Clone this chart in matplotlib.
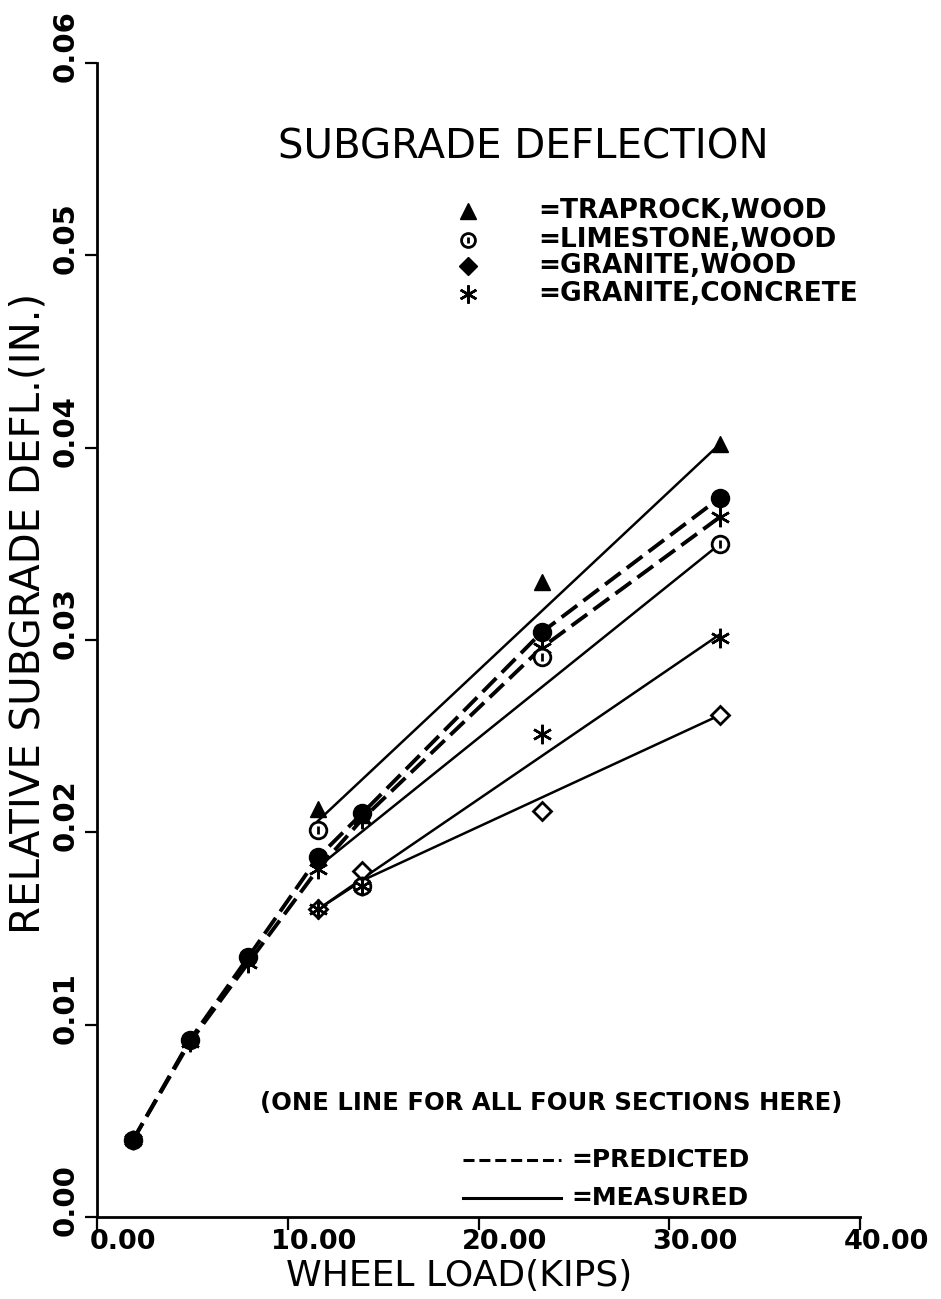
import matplotlib
matplotlib.use('Agg')
import matplotlib.pyplot as plt
from matplotlib.transforms import ScaledTranslation, blended_transform_factory

# --- Data ---
# wheel loads (kips) where deflections were computed / measured
load = [1.86, 4.85, 7.9, 11.57, 13.9, 23.3, 32.66]

# predicted subgrade deflection, two dashed curves (in.)
pred_upper = [0.0040, 0.0092, 0.0135, 0.0187, 0.0210, 0.0304, 0.0374]
pred_lower = [0.0040, 0.0091, 0.0132, 0.0181, 0.0207, 0.0296, 0.0364]

# measured points per section
sec_load = [11.57, 13.9, 23.3, 32.66]
traprock_wood = [0.0212, 0.0209, 0.0330, 0.0402]
limestone_wood = [0.0201, 0.0172, 0.0291, 0.0350]
granite_wood = [0.0160, 0.0180, 0.0211, 0.0261]
granite_concrete = [0.0160, 0.0172, 0.0251, 0.0301]

# measured (fitted) solid lines
fit_load = [11.57, 32.66]
traprock_fit = [0.0206, 0.0402]
limestone_fit = [0.0182, 0.0350]
granite_fit_load = [11.57, 13.9, 32.66]
granite_wood_fit = [0.0160, 0.0175, 0.0261]
granite_concrete_fit = [0.0160, 0.0176, 0.0303]

x_ticks = [0, 10, 20, 30, 40]
x_ticklabels = ['0.00', '10.00', '20.00', '30.00', '40.00']
y_ticks = [0.00, 0.01, 0.02, 0.03, 0.04, 0.05, 0.06]
y_ticklabels = ['0.00', '0.01', '0.02', '0.03', '0.04', '0.05', '0.06']

legend_labels = ['=TRAPROCK,WOOD', '=LIMESTONE,WOOD', '=GRANITE,WOOD', '=GRANITE,CONCRETE']

# --- Figure ---
fig = plt.figure(figsize=(9.41, 12.99), dpi=100)
ax = fig.add_axes([0.1036, 0.0631, 0.8103, 0.8884])
ax.set_xlim(0, 40)
ax.set_ylim(0, 0.06)

for side in ['top', 'right']:
    ax.spines[side].set_visible(False)
for side in ['left', 'bottom']:
    ax.spines[side].set_linewidth(2.0)

ax.set_xticks(x_ticks)
ax.set_yticks(y_ticks)
ax.set_xticklabels([])
ax.set_yticklabels([])
ax.tick_params(direction='out', length=9, width=1.6, color='black')

star = (6, 2, 0)
dash = (0, (5, 2))

# predicted curves
ax.plot(load, pred_upper, color='black', lw=2.8, ls=dash,
        marker='o', ms=13, mfc='black', mec='black')
ax.plot(load, pred_lower, color='black', lw=2.8, ls=dash,
        marker=star, ms=14, mew=1.8, mec='black')

# measured lines
ax.plot(fit_load, traprock_fit, color='black', lw=1.8)
ax.plot(fit_load, limestone_fit, color='black', lw=1.8)
ax.plot(granite_fit_load, granite_wood_fit, color='black', lw=1.8)
ax.plot(granite_fit_load, granite_concrete_fit, color='black', lw=1.8)

# measured points
ax.plot(sec_load, traprock_wood, ls='none', marker='^', ms=12, color='black')
ax.plot(sec_load, limestone_wood, ls='none', marker='o', ms=12,
        mfc='white', mec='black', mew=2)
ax.plot(sec_load, limestone_wood, ls='none', marker='|', ms=6,
        mec='black', mew=2)
ax.plot(sec_load, granite_wood, ls='none', marker='D', ms=9,
        mfc='white', mec='black', mew=2)
ax.plot(sec_load, granite_concrete, ls='none', marker=star, ms=14,
        mew=1.8, mec='black')

# --- Tick labels (plotter style, offset from ticks) ---
xtr = blended_transform_factory(ax.transData, ax.transAxes) + \
    ScaledTranslation(26 / 100, 0, fig.dpi_scale_trans)
for v, s in zip(x_ticks, x_ticklabels):
    ax.text(v, -0.010, s, transform=xtr, ha='center', va='top',
            fontsize=19.5, fontweight='bold')

ytr = blended_transform_factory(ax.transAxes, ax.transData) + \
    ScaledTranslation(0, 17 / 100, fig.dpi_scale_trans)
for v, s in zip(y_ticks, y_ticklabels):
    ax.text(-0.042, v, s, transform=ytr, ha='center', va='center',
            rotation=90, fontsize=21, fontweight='bold')

# axis labels
ax.text(-0.091, 0.523, 'RELATIVE SUBGRADE DEFL.(IN.)', transform=ax.transAxes,
        rotation=90, ha='center', va='center', fontsize=29)
ax.text(0.474, -0.0511, 'WHEEL LOAD(KIPS)', transform=ax.transAxes,
        ha='center', va='center', fontsize=26)

# title and marker key
ax.text(0.559, 0.927, 'SUBGRADE DEFLECTION', transform=ax.transAxes,
        ha='center', va='center', fontsize=29)

key_y = [0.872, 0.847, 0.824, 0.800]
ax.plot(0.486, key_y[0], transform=ax.transAxes, marker='^', ms=11,
        color='black', clip_on=False)
ax.plot(0.486, key_y[1], transform=ax.transAxes, marker='o', ms=10,
        mfc='white', mec='black', mew=2, clip_on=False)
ax.plot(0.486, key_y[1], transform=ax.transAxes, marker='|', ms=5,
        mec='black', mew=2, clip_on=False)
ax.plot(0.486, key_y[2], transform=ax.transAxes, marker='D', ms=9,
        color='black', clip_on=False)
ax.plot(0.486, key_y[3], transform=ax.transAxes, marker=star, ms=13,
        mew=1.8, mec='black', clip_on=False)
for yy, s in zip(key_y, legend_labels):
    ax.text(0.578, yy, s, transform=ax.transAxes, ha='left', va='center',
            fontsize=19, fontweight='bold')

# note and line-style key
ax.text(0.595, 0.099, '(ONE LINE FOR ALL FOUR SECTIONS HERE)',
        transform=ax.transAxes, ha='center', va='center',
        fontsize=17.5, fontweight='bold')
ax.plot([0.479, 0.608], [0.049, 0.049], transform=ax.transAxes,
        color='black', lw=2.2, ls=(0, (3.6, 1.6)), clip_on=False)
ax.text(0.621, 0.049, '=PREDICTED', transform=ax.transAxes, ha='left',
        va='center', fontsize=18, fontweight='bold')
ax.plot([0.479, 0.608], [0.0165, 0.0165], transform=ax.transAxes,
        color='black', lw=2.2, clip_on=False)
ax.text(0.621, 0.0165, '=MEASURED', transform=ax.transAxes, ha='left',
        va='center', fontsize=18, fontweight='bold')

fig.savefig('out.png', dpi=100)
